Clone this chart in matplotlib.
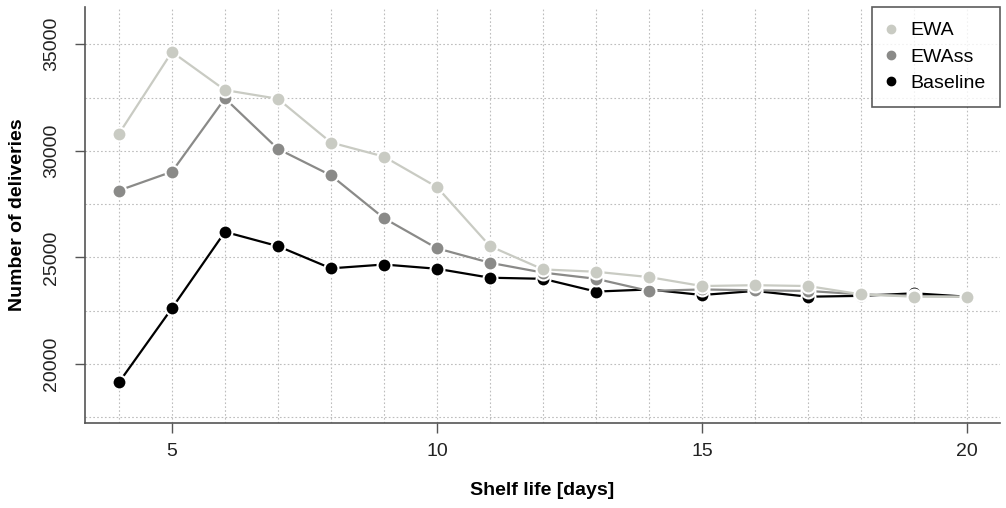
import numpy as np
import matplotlib
matplotlib.use("Agg")
import matplotlib.pyplot as plt
from matplotlib.ticker import MultipleLocator

plt.rcParams["font.family"] = ["Liberation Sans", "DejaVu Sans"]

shelf_life = [4, 5, 6, 7, 8, 9, 10, 11, 12, 13, 14, 15, 16, 17, 18, 19, 20]
ewa = [30800, 34640, 32850, 32440, 30390, 29730, 28300, 25530, 24440,
       24330, 24080, 23660, 23700, 23660, 23270, 23160, 23160]
ewass = [28140, 29020, 32460, 30090, 28850, 26840, 25430, 24750, 24290,
         24000, 23430, 23500, 23460, 23430, 23270, 23200, 23160]
baseline = [19140, 22620, 26200, 25530, 24490, 24670, 24470, 24050, 24000,
            23400, 23500, 23240, 23430, 23160, 23200, 23320, 23160]

series = [("Baseline", baseline, "#000000"),
          ("EWAss", ewass, "#8a8a88"),
          ("EWA", ewa, "#c9cbc3")]

fig = plt.figure(figsize=(10.06, 5.08), dpi=100)
ax = fig.add_axes([0.0845, 0.167, 0.9095, 0.819])

for name, vals, col in series:
    ax.plot(shelf_life, vals, color=col, lw=1.6, marker="o", markersize=10,
            markerfacecolor=col, markeredgecolor="white", markeredgewidth=1.5,
            zorder=3)

ax.set_xlim(3.36, 20.62)
ax.set_ylim(17230, 36740)

ax.xaxis.set_major_locator(MultipleLocator(5))
ax.xaxis.set_minor_locator(MultipleLocator(1))
ax.yaxis.set_major_locator(MultipleLocator(5000))
ax.yaxis.set_minor_locator(MultipleLocator(2500))
ax.grid(which="both", color="#bdbdbd", linestyle=(0, (1.5, 2)), lw=0.8, zorder=0)

for s in ["top", "right"]:
    ax.spines[s].set_visible(False)
for s in ["left", "bottom"]:
    ax.spines[s].set_color("#555555")
    ax.spines[s].set_linewidth(1.2)

ax.tick_params(which="major", length=7, width=1, color="#555555",
               labelsize=14, labelcolor="#222222", pad=7)
ax.tick_params(axis="y", pad=11)
ax.tick_params(which="minor", length=0)
for lbl in ax.get_yticklabels():
    lbl.set_rotation(90)
    lbl.set_va("center")

ax.set_xlabel("Shelf life [days]", fontsize=14, fontweight="bold", labelpad=16)
ax.set_ylabel("Number of deliveries", fontsize=14, fontweight="bold", labelpad=12)

handles = [plt.Line2D([], [], ls="", marker="o", markersize=6, color=c)
           for _, _, c in series[::-1]]
labels = [n for n, _, _ in series[::-1]]
leg = ax.legend(handles, labels, loc="upper right", bbox_to_anchor=(1.0, 1.0),
                borderaxespad=0, fontsize=14, frameon=True, fancybox=False,
                handletextpad=0.8, labelspacing=0.45, borderpad=0.75,
                handlelength=0.4)
leg.get_frame().set_edgecolor("#333333")
leg.get_frame().set_linewidth(1.2)

fig.savefig("out.png", dpi=100)
